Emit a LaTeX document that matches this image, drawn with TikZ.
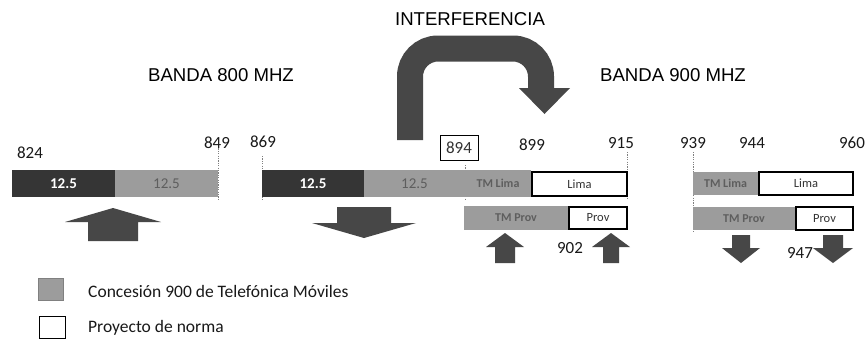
\documentclass[tikz,border=0pt]{standalone}
\usepackage{fontspec}
\setmainfont{Carlito}
\newfontfamily\headfont{Liberation Sans}
\definecolor{darkbar}{HTML}{353535}
\definecolor{graybar}{HTML}{9C9C9C}
\definecolor{graytext}{HTML}{5E5E5E}
\definecolor{arrowgray}{HTML}{474747}
\tikzset{
  barbase/.style={inner sep=0pt, outer sep=0pt, font=\fontsize{15}{16}\selectfont},
  darkseg/.style={barbase, fill=darkbar, text=white, font=\fontsize{15}{16}\selectfont\bfseries},
  grayseg/.style={barbase, fill=graybar, text=graytext, font=\fontsize{15}{16}\selectfont},
  tmseg/.style={barbase, fill=graybar, text=graytext, font=\fontsize{12}{13}\selectfont\bfseries},
  normbox/.style={barbase, fill=white, draw=black, line width=1.3pt, text=black!80, font=\fontsize{12.5}{13}\selectfont},
  freqlabel/.style={inner sep=0pt, font=\fontsize{17}{18}\selectfont, text=black!90},
  headlabel/.style={inner sep=0pt, font=\headfont\fontsize{18.6}{20}\selectfont, text=black},
  legendtext/.style={inner sep=0pt, anchor=west, font=\fontsize{17.5}{19}\selectfont, text=black!90},
  arrowfill/.style={fill=arrowgray},
  edgeline/.style={draw=gray, line width=0.6pt, dash pattern=on 1.2pt off 1.2pt},
}
\newcommand\mybar[7]{\node[#6, minimum width={#4-#2}, minimum height={#5-#3}] (#1) at ({(#2+#4)/2},{(#3+#5)/2}) {#7};}
\newcommand\blockarr[6]{\fill[arrowfill] (#1,#2) -- ({#1+#3},#4) -- ({#1+#5},#4) -- ({#1+#5},#6) -- ({#1-#5},#6) -- ({#1-#5},#4) -- ({#1-#3},#4) -- cycle;}
\begin{document}
\begin{tikzpicture}[x=1pt,y=-1pt]
\useasboundingbox (0,0) rectangle (868,341);
\fill[white] (0,0) rectangle (868,341);

% headings
\node[headlabel] (interf) at (470,19) {INTERFERENCIA};
\node[headlabel] (b800) at (221,75) {BANDA 800 MHZ};
\node[headlabel] (b900) at (673,75) {BANDA 900 MHZ};

% interference arrow
\draw[arrowgray, line width=26pt, rounded corners=28pt] (410,140) -- (410,48.5) -- (541,48.5) -- (541,89);
\fill[arrowfill] (519,88) -- (570,88) -- (544.5,114) -- cycle;

% band edge marks
\draw[edgeline] (218,146) -- (218,200);
\draw[edgeline] (262,156) -- (262,200);
\draw[edgeline] (465,165) -- (465,200);
\draw[edgeline] (627,152) -- (627,199);
\draw[edgeline] (693,152) -- (693,233);

% left band
\mybar{la}{12}{170}{115}{197}{darkseg}{12.5}
\mybar{lb}{115}{170}{218}{197}{grayseg}{12.5}

% middle band
\mybar{ma}{262}{170}{364}{197}{darkseg}{12.5}
\mybar{mb}{364}{170}{465}{197}{grayseg}{12.5}
\mybar{mc}{465}{170}{531}{197}{tmseg}{TM Lima}
\mybar{md}{532}{172}{627}{196}{normbox}{Lima}
\mybar{pa}{464}{206}{568}{230}{tmseg}{TM Prov}
\mybar{pb}{569}{207}{627}{229}{normbox}{Prov}

% right band
\mybar{ra}{693}{172}{758}{195}{tmseg}{TM Lima}
\mybar{rb}{759}{172}{853}{195}{normbox}{Lima}
\mybar{rc}{693}{207}{795}{230}{tmseg}{TM Prov}
\mybar{rd}{796}{207}{853}{230}{normbox}{Prov}

% frequency labels
\node[freqlabel] (f824) at (30,153) {824};
\node[freqlabel] (f849) at (217,143) {849};
\node[freqlabel] (f869) at (263,142) {869};
\node[normbox, line width=1pt, font=\fontsize{17}{18}\selectfont, minimum width=38, minimum height=25] (f894) at (459,147.5) {894};
\node[freqlabel] (f899) at (532,145) {899};
\node[freqlabel] (f915) at (621,143) {915};
\node[freqlabel] (f939) at (693,143) {939};
\node[freqlabel] (f944) at (752,143) {944};
\node[freqlabel] (f960) at (852,143) {960};
\node[freqlabel] (f902) at (570,248) {902};
\node[freqlabel] (f947) at (800,253) {947};

% block arrows
\blockarr{113}{208}{48}{222}{25}{241}
\blockarr{364}{238}{52}{223}{27}{207}
\blockarr{505}{233}{19}{247}{10}{263}
\blockarr{611}{233}{19}{247}{8}{263}
\blockarr{741}{263}{19}{248}{9}{235}
\blockarr{833}{263}{20}{248}{10}{235}

% legend
\node[fill=graybar, draw=gray, line width=0.6pt, inner sep=0pt, minimum width=25, minimum height=22] (lg1) at (51,289) {};
\node[draw=black, line width=1pt, inner sep=0pt, minimum width=26, minimum height=22] (lg2) at (52,327) {};
\node[legendtext] (lt1) at (88,291) {Concesión 900 de Telefónica Móviles};
\node[legendtext] (lt2) at (88,328) {Proyecto de norma};
\end{tikzpicture}
\end{document}
